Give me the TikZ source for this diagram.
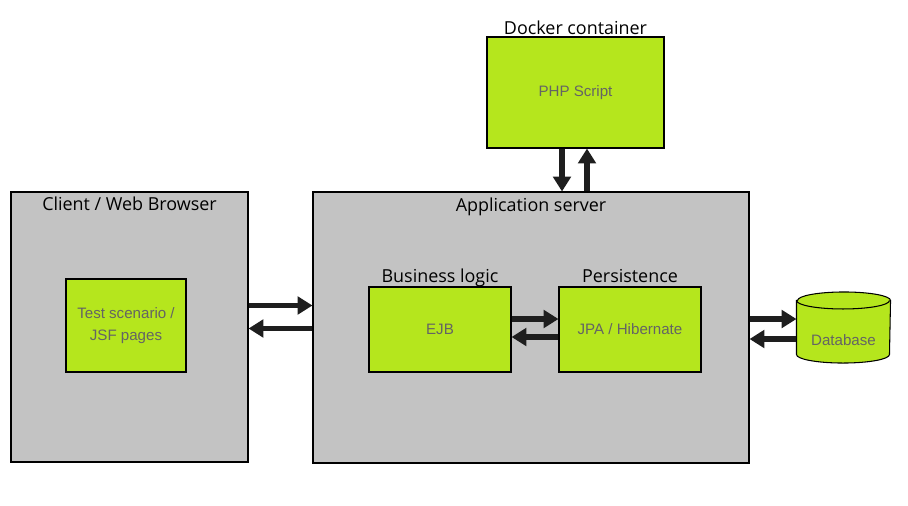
\documentclass[tikz,border=0pt]{standalone}
\usepackage{fontspec}
\setmainfont{Open Sans}
\newfontfamily\boxfont{Liberation Sans}
\usepackage{xcolor}
\usepackage{tikz}
\usetikzlibrary{shapes,fit,calc,positioning,arrows.meta}
\definecolor{boxgreen}{RGB}{181,230,29}
\definecolor{boxgray}{RGB}{195,195,195}
\definecolor{txtgray}{RGB}{100,100,100}
\definecolor{arrowblack}{RGB}{30,30,30}
\begin{document}
\begin{tikzpicture}[line width=0.6pt,
	outer/.style={draw,fill=boxgray,inner sep=0pt},
	inner/.style={draw,fill=boxgreen,inner sep=0pt,align=center,text=txtgray,font=\boxfont\fontsize{8.6}{12.5}\selectfont},
	title/.style={inner sep=0pt,anchor=base,font=\fontsize{10.2}{12}\selectfont},
	flow/.style={draw=arrowblack,line width=3.3pt,-{Triangle[length=8.5pt,width=10pt]}}]
\useasboundingbox (0,0) rectangle (18.16,-10.1);

\node [outer,minimum width=4.74cm,minimum height=5.4cm,name=client] at (2.59,-6.54) {};
\node [outer,minimum width=8.72cm,minimum height=5.42cm,name=app] at (10.62,-6.55) {};
\node [inner,minimum width=2.4cm,minimum height=1.86cm,name=test] at (2.52,-6.51) {Test scenario /\\JSF pages};
\node [inner,minimum width=2.84cm,minimum height=1.7cm,name=ejb] at (8.8,-6.59) {EJB};
\node [inner,minimum width=2.84cm,minimum height=1.7cm,name=jpa] at (12.6,-6.59) {JPA / Hibernate};
\node [inner,minimum width=3.54cm,minimum height=2.22cm,name=php] at (11.51,-1.85) {PHP Script};
\node [inner sep=0pt,minimum width=1.86cm,minimum height=1.4cm,name=db] at (16.87,-6.55) {};
% database drum
\draw[fill=boxgreen] ([yshift=-0.17cm]db.north west) -- ([yshift=0.17cm]db.south west)
	arc[start angle=180,end angle=360,x radius=0.93cm,y radius=0.17cm] -- ([yshift=-0.17cm]db.north east)
	arc[start angle=0,end angle=180,x radius=0.93cm,y radius=0.17cm] -- cycle;
\draw ([yshift=-0.17cm]db.north west) arc[start angle=180,end angle=360,x radius=0.93cm,y radius=0.17cm];
\node[text=txtgray,font=\boxfont\fontsize{8.6}{12.5}\selectfont,inner sep=0pt] (dbT) at ([yshift=-0.25cm]db.center) {Database};

\node[title] (clientT) at ([yshift=-0.39cm]client.north) {Client / Web Browser};
\node[title] (appT) at ([yshift=-0.41cm]app.north) {Application server};
\node[title] (ejbT) at ([yshift=0.08cm]ejb.north) {Business logic};
\node[title] (jpaT) at ([yshift=0.08cm]jpa.north) {Persistence};
\node[title] (phpT) at ([yshift=0.04cm]php.north) {Docker container};

\draw[flow] ([yshift=0.43cm]client.east) -- ([yshift=0.43cm]client.east -| app.west);
\draw[flow] ([yshift=-0.03cm]client.east -| app.west) -- ([yshift=-0.03cm]client.east);
\draw[flow] ([yshift=0.21cm]ejb.east) -- ([yshift=0.21cm]jpa.west);
\draw[flow] ([yshift=-0.15cm]jpa.west) -- ([yshift=-0.15cm]ejb.east);
\draw[flow] ([yshift=0.17cm]app.east) -- ([yshift=0.17cm]app.east -| db.west);
\draw[flow] ([yshift=-0.23cm]app.east -| db.west) -- ([yshift=-0.23cm]app.east);
\draw[flow] ([xshift=-0.27cm]php.south) -- ([xshift=-0.27cm]php.south |- app.north);
\draw[flow] ([xshift=0.23cm]php.south |- app.north) -- ([xshift=0.23cm]php.south);

\end{tikzpicture}
\end{document}
